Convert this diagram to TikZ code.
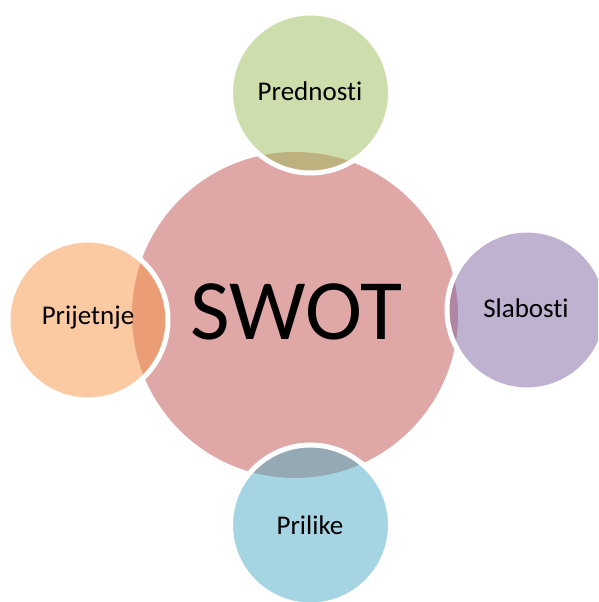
\documentclass[tikz,border=0pt]{standalone}
\usepackage{fontspec}
\setmainfont{Carlito}[Ligatures=NoCommon]
\definecolor{cred}{HTML}{C0504D}
\definecolor{cgreen}{HTML}{9BBB59}
\definecolor{cpurple}{HTML}{8064A2}
\definecolor{corange}{HTML}{F79646}
\definecolor{cblue}{HTML}{4BACC6}
\tikzset{
  hub/.style={circle, fill=cred, fill opacity=0.5, draw=none, minimum size=326pt, inner sep=0pt},
  sat/.style={circle, fill=#1, fill opacity=0.5, draw=white, draw opacity=1, line width=5pt, minimum size=160pt, inner sep=0pt},
  lbl/.style={anchor=base, text=black, font=\fontsize{27}{27}\selectfont, inner sep=0pt},
  big/.style={anchor=center, text=black, font=\fontsize{86}{86}\selectfont, inner sep=0pt}
}
\begin{document}
\begin{tikzpicture}[x=1pt,y=1pt]
\useasboundingbox (0,0) rectangle (598,602);
\clip (0,0) rectangle (598,602);
\node[hub] (swot) at (295,287) {};
\node[sat=cgreen] (pred) at (310.5,509) {};
\node[sat=cpurple] (slab) at (527,292) {};
\node[sat=corange] (prij) at (88,282) {};
\node[sat=cblue] (pril) at (310.5,77) {};
\node[big] (tswot) at (296.5,290.5) {SWOT};
\node[lbl] (tpred) at (310,501.3) {Prednosti};
\node[lbl] (tslab) at (526,284) {Slabosti};
\node[lbl] (tprij) at (88,277) {Prijetnje};
\node[lbl] (tpril) at (310,67) {Prilike};
\end{tikzpicture}
\end{document}
